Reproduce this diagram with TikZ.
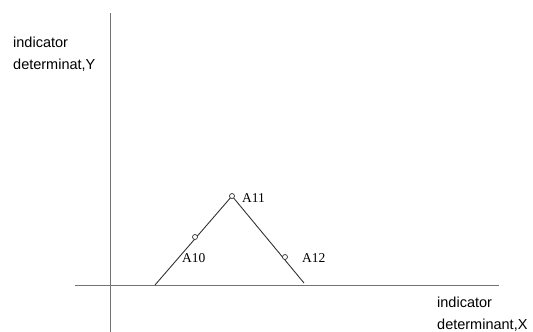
\documentclass[tikz,border=0pt]{standalone}
\usepackage{fontspec}
\setmainfont{Liberation Sans}
\newfontfamily\labelfont{Liberation Serif}
\usepackage{tikz}
\usetikzlibrary{positioning}

\begin{document}
\begin{tikzpicture}[x=1pt, y=-1pt,
    axis/.style={draw=black!55, line width=0.9pt},
    leg/.style={draw=black!80, line width=0.9pt},
    marker/.style={circle, draw=black!80, fill=white, line width=0.7pt,
      inner sep=0pt, minimum size=5pt},
    axislabel/.style={font=\fontsize{14.5}{22}\selectfont, align=left,
      inner sep=0pt, anchor=north west},
    pointlabel/.style={font=\labelfont\fontsize{13.5}{14}\selectfont,
      inner sep=0pt, anchor=base west}]

  \useasboundingbox (0,0) rectangle (533,332);

  % axes
  \coordinate (yTop) at (110,13);
  \coordinate (yBot) at (110,332);
  \coordinate (xLeft) at (75,285);
  \coordinate (xRight) at (499,285);
  \path[axis] (yTop) edge (yBot)
              (xLeft) edge (xRight);

  \node[axislabel] (ylab) at (13,37) {indicator\\determinat,Y};
  \node[axislabel] (xlab) at (437,297) {indicator\\determinant,X};

  % the triangle
  \coordinate (legL) at (155,285);
  \coordinate (apex) at (232,196);
  \coordinate (legR) at (304,283);
  \path[leg] (legL) edge (apex)
             (apex) edge (legR);

  \node[marker] (a10) at (195,237) {};
  \node[marker] (a11) at (apex) {};
  \node[marker] (a12) at (285,257) {};

  \node[pointlabel] (t10) at (182,262) {A10};
  \node[pointlabel] (t11) at (242,202) {A11};
  \node[pointlabel] (t12) at (302,262) {A12};

\end{tikzpicture}
\end{document}
